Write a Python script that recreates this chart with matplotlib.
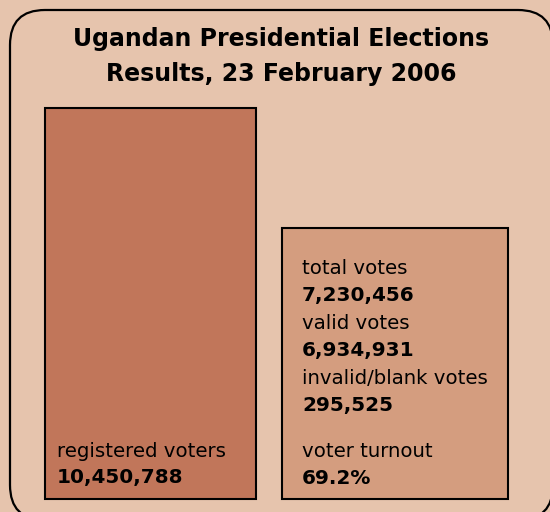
import matplotlib
matplotlib.use('Agg')
import matplotlib.pyplot as plt
from matplotlib.patches import FancyBboxPatch, Polygon

# -------------------------------------------------------------------
# data
title_lines = ['Ugandan Presidential Elections', 'Results, 23 February 2006']
bar_names = ['registered voters', 'total votes']
bar_values = [10450788, 7230456]
box_labels = ['total votes', 'valid votes', 'invalid/blank votes', 'voter turnout']
box_values = ['7,230,456', '6,934,931', '295,525', '69.2%']
reg_label = 'registered voters'
reg_value = '10,450,788'

BG = '#E6C4AD'
BAR_COLORS = ['#C1765A', '#D49D7F']

W, H = 550, 512
fig = plt.figure(figsize=(W / 100, H / 100), dpi=100)
fig.patch.set_facecolor(BG)

# bars: baseline at pixel 499, tallest bar top at pixel 108
ax = fig.add_axes([0, (H - 499) / H, 1, (499 - 108) / H])
ax.set_xlim(0, W)
ax.set_ylim(0, max(bar_values))
ax.bar([150.5, 395], bar_values, width=[211, 226], color=BAR_COLORS,
       edgecolor='black', linewidth=1.5, clip_on=False)
ax.axis('off')

# overlay in pixel coords (y measured from top) for border and text
ov = fig.add_axes([0, 0, 1, 1])
ov.set_xlim(0, W)
ov.set_ylim(0, H)
ov.patch.set_alpha(0)
ov.axis('off')


def py(y):
    # pixel row from top -> overlay y
    return H - y


# rounded frame, partly off canvas: flatten curves so clipping behaves
frame = FancyBboxPatch((10, py(520)), 543, 510,
                       boxstyle='round,pad=0,rounding_size=35')
pts = frame.get_path().to_polygons(closed_only=False)[0]
ov.add_patch(Polygon(pts, closed=True, fill=False, edgecolor='black',
                     linewidth=1.6))

for i, line in enumerate(title_lines):
    ov.text(281, py(46 + i * 35), line, ha='center', va='baseline',
            fontsize=17, fontweight='bold')

# left bar text
ov.text(57, py(457), reg_label, va='baseline', fontsize=14.2)
ov.text(57, py(483), reg_value, va='baseline', fontsize=14.4, fontweight='bold')

# right box text
label_y = [274, 329, 384, 457]
for lab, val, y in zip(box_labels, box_values, label_y):
    ov.text(302, py(y), lab, va='baseline', fontsize=14.2)
    ov.text(302, py(y + 27), val, va='baseline', fontsize=14.4, fontweight='bold')

fig.savefig('out.png', dpi=100, facecolor=BG)
